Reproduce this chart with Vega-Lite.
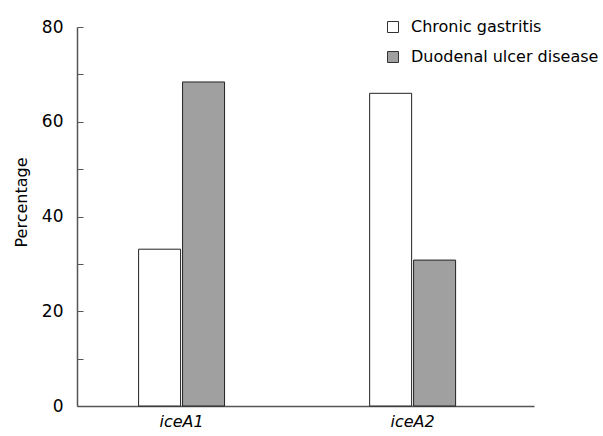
{
  "$schema": "https://vega.github.io/schema/vega-lite/v6.json",
  "autosize": {"type": "none"},
  "width": 457,
  "height": 379,
  "padding": {"left": 77, "top": 27, "right": 69, "bottom": 30},
  "background": "white",
  "config": {
    "font": "DejaVu Sans",
    "view": {"stroke": null}
  },
  "data": {
    "values": [
      {"gene": "iceA1", "group": "Chronic gastritis", "pct": 33.1},
      {"gene": "iceA1", "group": "Duodenal ulcer disease", "pct": 68.4},
      {"gene": "iceA2", "group": "Chronic gastritis", "pct": 66.0},
      {"gene": "iceA2", "group": "Duodenal ulcer disease", "pct": 30.8}
    ]
  },
  "mark": {"type": "bar", "stroke": "#222222", "strokeWidth": 1},
  "encoding": {
    "x": {
      "field": "gene",
      "type": "nominal",
      "scale": {"paddingInner": 0.628, "paddingOuter": 0.303, "align": 0.44},
      "axis": {
        "title": null,
        "labelAngle": 0,
        "ticks": false,
        "labelFontSize": 16,
        "labelFontStyle": "italic",
        "labelColor": "#000000",
        "labelPadding": 7,
        "domainColor": "#555555",
        "domainWidth": 1.5
      }
    },
    "xOffset": {
      "field": "group",
      "type": "nominal",
      "scale": {"paddingInner": 0.045, "paddingOuter": 0}
    },
    "y": {
      "field": "pct",
      "type": "quantitative",
      "scale": {"domain": [0, 80], "nice": false},
      "axis": {
        "title": "Percentage",
        "titleFontSize": 16,
        "titleFontWeight": "normal",
        "titleColor": "#000000",
        "titlePadding": 12,
        "titleY": 175,
        "values": [0, 10, 20, 30, 40, 50, 60, 70, 80],
        "labelExpr": "datum.value % 20 == 0 ? datum.label : ''",
        "labelFontSize": 17,
        "labelColor": "#000000",
        "labelPadding": 20,
        "tickSize": -6,
        "tickColor": "#555555",
        "domainColor": "#555555",
        "domainWidth": 1.5,
        "grid": false
      }
    },
    "fill": {
      "field": "group",
      "type": "nominal",
      "scale": {"range": ["#ffffff", "#a0a0a0"]},
      "legend": {
        "title": null,
        "orient": "none",
        "legendX": 308,
        "legendY": -8,
        "padding": 0,
        "symbolType": "square",
        "symbolSize": 121,
        "symbolStrokeColor": "#333333",
        "symbolStrokeWidth": 1,
        "labelFontSize": 16,
        "labelColor": "#000000",
        "labelOffset": 10,
        "labelLimit": 300,
        "rowPadding": 14
      }
    }
  }
}
